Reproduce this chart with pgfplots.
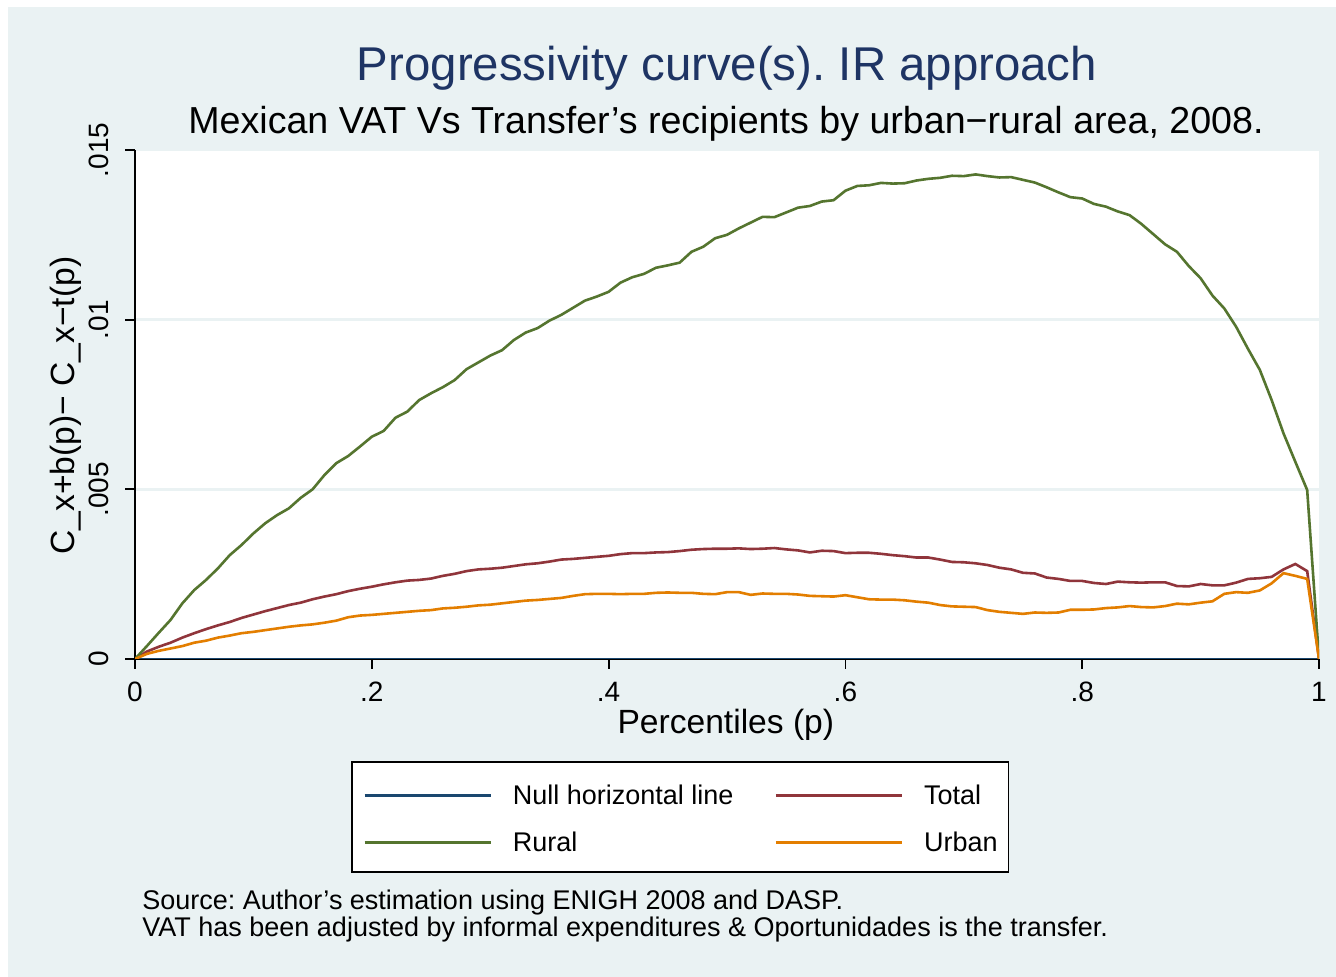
\documentclass[border=0pt]{standalone}
\usepackage{pgfplots}
\pgfplotsset{compat=1.18}
\usepackage{pgfplotstable}
\usepackage{fontspec}
\setmainfont{Liberation Sans}
\frenchspacing

\definecolor{stnavy}{RGB}{26,71,111}
\definecolor{stmaroon}{RGB}{144,53,59}
\definecolor{stgreen}{RGB}{85,117,47}
\definecolor{storange}{RGB}{227,126,0}
\definecolor{stbg}{HTML}{EAF2F3}
\definecolor{sttitle}{RGB}{30,52,100}

% p, Total, Rural, Urban
\pgfplotstableread{
p     total    rural    urban
0.00  0        0        0
0.01  0.00022  0.00038  0.00015
0.02  0.00036  0.00077  0.00024
0.03  0.00048  0.00115  0.00031
0.04  0.00063  0.00164  0.00038
0.05  0.00076  0.00203  0.00048
0.06  0.00088  0.00233  0.00054
0.07  0.00099  0.00267  0.00063
0.08  0.00109  0.00306  0.00069
0.09  0.00121  0.00336  0.00076
0.10  0.00131  0.00370  0.00080
0.11  0.00141  0.00400  0.00085
0.12  0.00150  0.00424  0.00090
0.13  0.00159  0.00444  0.00095
0.14  0.00166  0.00475  0.00099
0.15  0.00176  0.00500  0.00102
0.16  0.00184  0.00542  0.00107
0.17  0.00191  0.00577  0.00113
0.18  0.00200  0.00598  0.00123
0.19  0.00207  0.00626  0.00128
0.20  0.00213  0.00655  0.00130
0.21  0.00220  0.00672  0.00133
0.22  0.00226  0.00711  0.00136
0.23  0.00231  0.00729  0.00139
0.24  0.00233  0.00763  0.00142
0.25  0.00237  0.00783  0.00144
0.26  0.00245  0.00801  0.00149
0.27  0.00251  0.00822  0.00151
0.28  0.00259  0.00854  0.00154
0.29  0.00264  0.00874  0.00158
0.30  0.00266  0.00894  0.00160
0.31  0.00269  0.00910  0.00164
0.32  0.00274  0.00940  0.00168
0.33  0.00279  0.00962  0.00172
0.34  0.00282  0.00975  0.00174
0.35  0.00287  0.00997  0.00177
0.36  0.00293  0.01014  0.00180
0.37  0.00295  0.01035  0.00186
0.38  0.00298  0.01056  0.00191
0.39  0.00301  0.01068  0.00192
0.40  0.00304  0.01082  0.00192
0.41  0.00309  0.01109  0.00191
0.42  0.00312  0.01125  0.00192
0.43  0.00312  0.01135  0.00192
0.44  0.00314  0.01153  0.00195
0.45  0.00315  0.01160  0.00196
0.46  0.00318  0.01168  0.00195
0.47  0.00322  0.01200  0.00195
0.48  0.00324  0.01215  0.00192
0.49  0.00325  0.01240  0.00191
0.50  0.00325  0.01250  0.00197
0.51  0.00326  0.01269  0.00197
0.52  0.00324  0.01286  0.00189
0.53  0.00325  0.01303  0.00193
0.54  0.00327  0.01302  0.00192
0.55  0.00323  0.01316  0.00192
0.56  0.00320  0.01330  0.00190
0.57  0.00314  0.01335  0.00186
0.58  0.00319  0.01348  0.00185
0.59  0.00318  0.01352  0.00184
0.60  0.00312  0.01380  0.00188
0.61  0.00313  0.01394  0.00182
0.62  0.00313  0.01396  0.00176
0.63  0.00310  0.01403  0.00175
0.64  0.00306  0.01401  0.00175
0.65  0.00303  0.01402  0.00173
0.66  0.00299  0.01410  0.00169
0.67  0.00299  0.01415  0.00166
0.68  0.00293  0.01418  0.00159
0.69  0.00286  0.01424  0.00155
0.70  0.00285  0.01423  0.00154
0.71  0.00282  0.01428  0.00153
0.72  0.00277  0.01423  0.00144
0.73  0.00269  0.01419  0.00139
0.74  0.00264  0.01420  0.00136
0.75  0.00254  0.01412  0.00133
0.76  0.00252  0.01404  0.00137
0.77  0.00240  0.01390  0.00136
0.78  0.00236  0.01375  0.00137
0.79  0.00230  0.01361  0.00145
0.80  0.00230  0.01357  0.00145
0.81  0.00224  0.01341  0.00146
0.82  0.00221  0.01333  0.00150
0.83  0.00228  0.01319  0.00152
0.84  0.00226  0.01308  0.00156
0.85  0.00225  0.01282  0.00153
0.86  0.00226  0.01252  0.00152
0.87  0.00226  0.01222  0.00156
0.88  0.00215  0.01200  0.00163
0.89  0.00214  0.01158  0.00161
0.90  0.00221  0.01122  0.00166
0.91  0.00217  0.01071  0.00170
0.92  0.00217  0.01033  0.00192
0.93  0.00225  0.00979  0.00197
0.94  0.00236  0.00914  0.00195
0.95  0.00238  0.00852  0.00202
0.96  0.00242  0.00763  0.00223
0.97  0.00264  0.00665  0.00253
0.98  0.00280  0.00581  0.00245
0.99  0.00259  0.00498  0.00236
1.00  0        0        0
}\curves

\begin{document}
\begin{tikzpicture}
% page: 1336x977 px at 0.5pt per px
\useasboundingbox[fill=white] (0,0) rectangle (668pt,488.5pt);
\fill[stbg] (4pt,0) rectangle (668pt,485pt);

\begin{axis}[
  at={(67.5pt,159pt)}, anchor=south west,
  width=592pt, height=254.5pt, scale only axis,
  xmin=0, xmax=1, ymin=0, ymax=0.015,
  axis x line*=bottom, axis y line*=left,
  axis line style={-, line width=0.9pt, black},
  axis background/.style={fill=white},
  xtick={0,0.2,0.4,0.6,0.8,1},
  xticklabels={0,.2,.4,.6,.8,1},
  ytick={0,0.005,0.01,0.015},
  yticklabels={0,.005,.01,.015},
  scaled y ticks=false,
  tick align=outside, major tick length=5pt,
  tick style={black, line width=0.9pt},
  ymajorgrids, grid style={stbg, line width=1.2pt},
  ticklabel style={font=\fontsize{14}{16}\selectfont},
  yticklabel style={rotate=90, anchor=south, inner sep=0pt},
  xticklabel style={anchor=north, inner sep=0pt},
  yticklabel shift=8pt,
  xticklabel shift=6.5pt,
  xlabel={Percentiles (p)},
  ylabel={C\_x+b(p)− C\_x−t(p)},
  every axis x label/.style={at={(axis description cs:0.499,-0.1454)}, anchor=base,
    font=\fontsize{16.8}{20}\selectfont},
  every axis y label/.style={at={(axis description cs:-0.0507,0.498)}, rotate=90, anchor=base,
    font=\fontsize{16.8}{20}\selectfont},
  legend columns=2,
  legend cell align=left,
  legend image code/.code={\draw[#1] (0pt,-1pt) -- (63pt,-1pt);},
  legend style={at={(0.4607,-0.3104)}, anchor=center, draw=black, line width=0.8pt,
    fill=white, inner xsep=5.5pt, inner ysep=9.25pt,
    font=\fontsize{13.5}{16}\selectfont,
    nodes={inner sep=0pt, text height=12pt, text depth=1pt},
    row sep=10.5pt,
    /tikz/every odd column/.append style={column sep=10.5pt},
    /tikz/every even column/.append style={column sep=20.5pt}},
]
\addplot[stnavy, line width=1.2pt] coordinates {(0,0) (1,0)};
\addplot[stmaroon, line width=1.3pt] table[x=p, y=total] {\curves};
\addplot[stgreen, line width=1.3pt] table[x=p, y=rural] {\curves};
\addplot[storange, line width=1.3pt] table[x=p, y=urban] {\curves};
\legend{Null horizontal line, Total, Rural, Urban}
\end{axis}

\node[anchor=base, text=sttitle, font=\fontsize{23.7}{28}\selectfont, inner sep=0pt]
  at (363.5pt,448.25pt) {Progressivity curve(s). IR approach};
\node[anchor=base, font=\fontsize{18.8}{22}\selectfont, inner sep=0pt]
  at (363pt,421.65pt) {Mexican VAT Vs Transfer’s recipients by urban−rural area, 2008.};
\node[anchor=base west, font=\fontsize{13.5}{16}\selectfont, inner sep=0pt]
  at (71pt,33.75pt) {Source: Author’s estimation using ENIGH 2008 and DASP.};
\node[anchor=base west, font=\fontsize{13.5}{16}\selectfont, inner sep=0pt]
  at (71pt,20.25pt) {VAT has been adjusted by informal expenditures \& Oportunidades is the transfer.};
\end{tikzpicture}
\end{document}
